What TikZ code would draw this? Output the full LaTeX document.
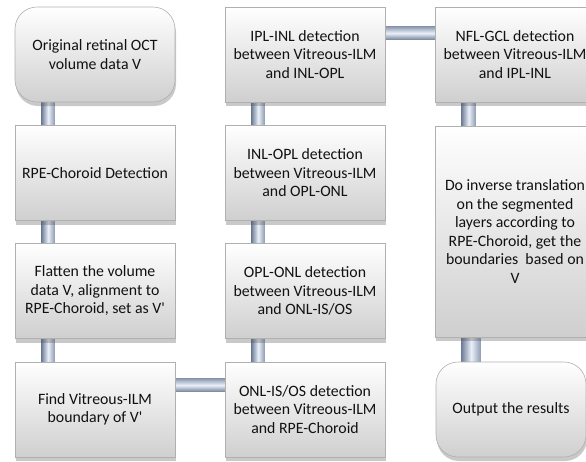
\documentclass[tikz,border=0pt]{standalone}
\usepackage{fontspec}
\setmainfont{Carlito}
\usetikzlibrary{shadows,backgrounds,calc}
\definecolor{pipeedge}{HTML}{74839C}
\definecolor{pipeedge2}{HTML}{8E9BB1}
\definecolor{pipemid}{HTML}{EAF0F8}
\definecolor{boxbot}{HTML}{CFCFCF}
\definecolor{boxline}{HTML}{B0B0B0}
\definecolor{txt}{HTML}{111111}
\begin{document}
\begin{tikzpicture}[x=1pt,y=-1pt,
  box/.style={draw=boxline, line width=0.6pt, top color=white, bottom color=boxbot,
    minimum width=160pt, minimum height=95pt, align=center, text=txt, inner sep=2pt,
    font=\fontsize{15.8}{18.5}\selectfont,
    drop shadow={shadow xshift=1pt, shadow yshift=-4pt, opacity=0.3, fill=black!70}},
  termbox/.style={box, rounded corners=22pt},
  vpipe/.style={left color=pipeedge, right color=pipeedge2, middle color=pipemid},
  hpipe/.style={top color=pipeedge2, bottom color=pipeedge, middle color=pipemid}]
\useasboundingbox (0,0) rectangle (586,461);
% column 1
\node[termbox] (a1) at (95,54.5) {Original retinal OCT\\volume data V};
\node[box] (a2) at (95,173) {RPE-Choroid Detection};
\node[box] (a3) at (95,291) {Flatten the volume\\data V, alignment to\\RPE-Choroid, set as V\textquotesingle};
\node[box] (a4) at (95,409.5) {Find Vitreous-ILM\\boundary of V\textquotesingle};
% column 2
\node[box] (b1) at (305,54.5) {IPL-INL detection\\between Vitreous-ILM\\and INL-OPL};
\node[box] (b2) at (305,173) {INL-OPL detection\\between Vitreous-ILM\\and OPL-ONL};
\node[box] (b3) at (305,291) {OPL-ONL detection\\between Vitreous-ILM\\and ONL-IS/OS};
\node[box] (b4) at (305,409.5) {ONL-IS/OS detection\\between Vitreous-ILM\\and RPE-Choroid};
% column 3
\node[box] (c1) at (515,54.5) {NFL-GCL detection\\between Vitreous-ILM\\and IPL-INL};
\node[box, minimum height=211pt] (c2) at (515,231.5) {Do inverse translation\\on the segmented\\layers according to\\RPE-Choroid, get the\\boundaries\ \ based on\\V};
\node[termbox, minimum width=150pt] (c3) at (511,409.5) {Output the results};
% connectors
\begin{pgfonlayer}{background}
\fill[vpipe] ($(a1.south west)+(27,-6)$) rectangle ($(a2.north west)+(40,6)$);
\fill[vpipe] ($(a2.south west)+(27,-6)$) rectangle ($(a3.north west)+(40,6)$);
\fill[vpipe] ($(a3.south west)+(27,-6)$) rectangle ($(a4.north west)+(40,6)$);
\fill[hpipe] ($(a4.north east)+(-6,17)$) rectangle ($(b4.north west)+(6,30)$);
\fill[vpipe] ($(b4.north west)+(27,6)$) rectangle ($(b3.south west)+(40,-6)$);
\fill[vpipe] ($(b3.north west)+(27,6)$) rectangle ($(b2.south west)+(40,-6)$);
\fill[vpipe] ($(b2.north west)+(27,6)$) rectangle ($(b1.south west)+(40,-6)$);
\fill[hpipe] ($(b1.north east)+(-6,20)$) rectangle ($(c1.north west)+(6,33)$);
\fill[vpipe] ($(c1.south west)+(27,-6)$) rectangle ($(c2.north west)+(41,6)$);
\fill[vpipe] ($(c2.south west)+(27,-6)$) rectangle ($(c3.north west)+(45,6)$);
\end{pgfonlayer}
\end{tikzpicture}
\end{document}
